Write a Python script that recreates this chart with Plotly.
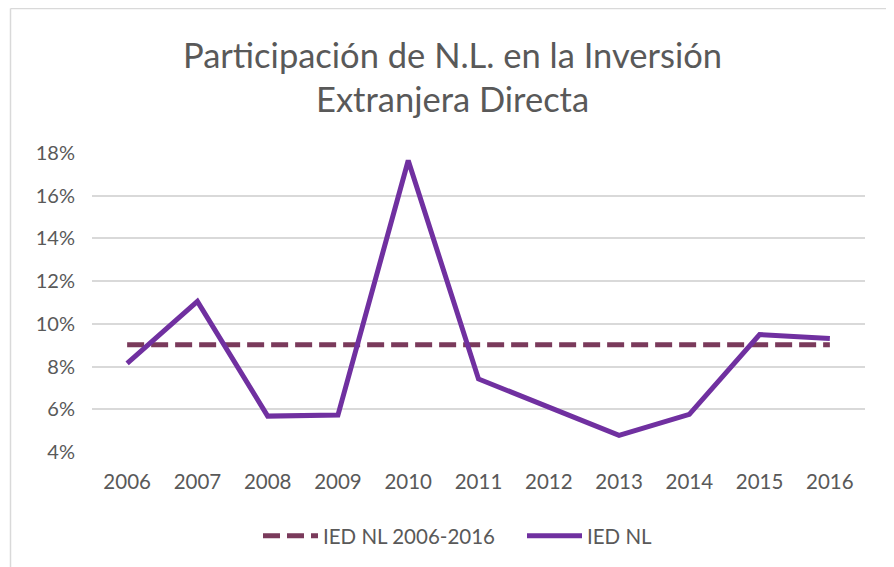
import plotly.graph_objects as go

years = ["2006", "2007", "2008", "2009", "2010", "2011", "2012", "2013", "2014", "2015", "2016"]
ied_nl = [8.15, 11.05, 5.68, 5.73, 17.65, 7.42, 6.1, 4.78, 5.76, 9.5, 9.32]
ied_prom = [9.02] * 11
y_ticks = [4, 6, 8, 10, 12, 14, 16, 18]
y_tick_labels = [f"{v}%" for v in y_ticks]
title_lines = ["Participación de N.L. en la Inversión", "Extranjera Directa"]

W, H = 894, 567
O = 8  # page body margin offset
# target plot area in page pixels: x 92..865, y 153..452
L = 92 - O
T = 153 - O
R = W - (865 - O)
B = H - (452 - O)
pw, ph = W - L - R, H - T - B

fig = go.Figure()
fig.add_trace(go.Scatter(
    x=years, y=ied_prom, mode="lines", name="IED NL 2006-2016",
    line=dict(color="#7A3A5B", width=5, dash="17px,7px"),
))
fig.add_trace(go.Scatter(
    x=years, y=ied_nl, mode="lines", name="IED NL",
    line=dict(color="#7030A0", width=5),
))

def px(xp):
    return (xp - O - L) / pw

def py(yp):
    return (H - B - (yp - O)) / ph

border = "#D9D9D9"
shapes = [
    dict(type="line", xref="paper", yref="paper", x0=px(10.5), x1=px(900), y0=py(8.5), y1=py(8.5),
         line=dict(color=border, width=1.5)),
    dict(type="line", xref="paper", yref="paper", x0=px(10.5), x1=px(10.5), y0=py(8.5), y1=py(580),
         line=dict(color=border, width=1.5)),
]

title_y = [54, 99]
annotations = [
    dict(text=t, xref="paper", yref="paper",
         x=px(452), y=py(yy), xanchor="center", yanchor="middle",
         showarrow=False, align="center",
         font=dict(size=34.5, color="#595959"))
    for t, yy in zip(title_lines, title_y)
]

fig.update_layout(
    width=W, height=H,
    margin=dict(l=L, r=R, t=T, b=B, autoexpand=False),
    paper_bgcolor="white", plot_bgcolor="white",
    font=dict(family="Lato, 'Open Sans', sans-serif", color="#595959"),
    annotations=annotations,
    xaxis=dict(
        type="category", range=[-0.5, 10.5], showgrid=False,
        showline=False, ticks="", zeroline=False, automargin=False,
        ticklabelstandoff=15,
        tickfont=dict(size=20.5, color="#595959"),
    ),
    yaxis=dict(
        range=[4, 18], tickvals=y_ticks, ticktext=y_tick_labels,
        showgrid=True, gridcolor="#D9D9D9", gridwidth=1.5,
        zeroline=False, showline=False, ticks="", ticklabelstandoff=16,
        automargin=False,
        tickfont=dict(size=20, color="#595959"),
    ),
    legend=dict(
        orientation="h", xref="paper", yref="paper",
        x=px(258), xanchor="left", y=py(536), yanchor="middle",
        font=dict(size=20.5, color="#595959"), itemwidth=55,
        entrywidth=194, entrywidthmode="pixels",
    ),
    shapes=shapes,
)

fig.write_html("out.html")
